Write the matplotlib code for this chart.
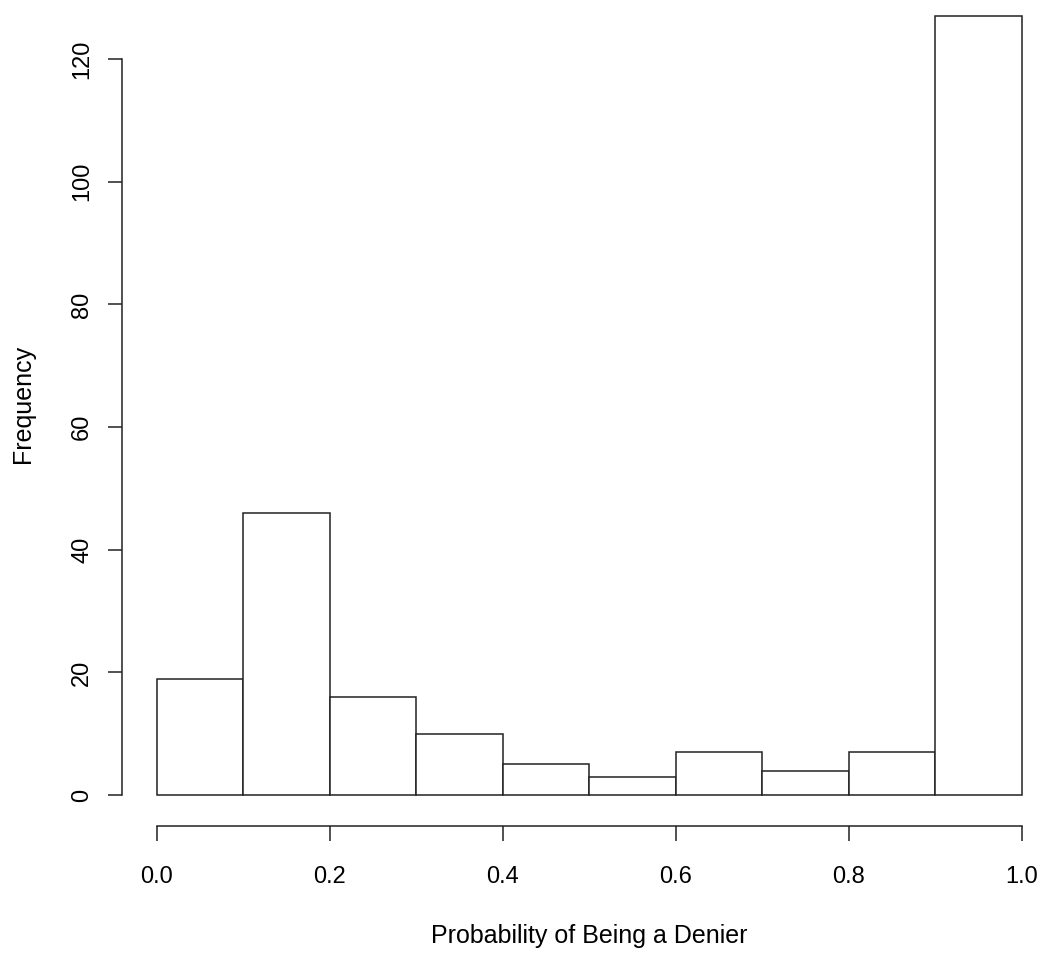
import matplotlib
matplotlib.use("Agg")
import matplotlib.pyplot as plt

# histogram of the denier probabilities
bin_edges = [0.0, 0.1, 0.2, 0.3, 0.4, 0.5, 0.6, 0.7, 0.8, 0.9, 1.0]
counts = [19, 46, 16, 10, 5, 3, 7, 4, 7, 127]
x_ticks = [0.0, 0.2, 0.4, 0.6, 0.8, 1.0]
y_ticks = [0, 20, 40, 60, 80, 100, 120]

plt.rcParams['font.family'] = ['Liberation Sans', 'DejaVu Sans']

W, H = 1050, 959
fig = plt.figure(figsize=(W / 100, H / 100), dpi=100)
# R style plot region: 4% padding on both axes
ax = fig.add_axes([122 / W, (H - 826.2) / H, 934.2 / W, 841.2 / H])

lefts = bin_edges[:-1]
widths = [b - a for a, b in zip(bin_edges[:-1], bin_edges[1:])]
ax.bar(lefts, counts, width=widths, align='edge', color='white',
       edgecolor='#222222', linewidth=1.1)

ax.set_xlim(-0.04, 1.04)
ax.set_ylim(-5.08, 132.08)

for s in ['top', 'right']:
    ax.spines[s].set_visible(False)
ax.spines['left'].set_bounds(0, 120)
ax.spines['bottom'].set_bounds(0, 1)
for s in ['left', 'bottom']:
    ax.spines[s].set_linewidth(1.1)
    ax.spines[s].set_color('#222222')

ax.set_xticks(x_ticks)
ax.set_xticklabels([f"{v:.1f}" for v in x_ticks])
ax.set_yticks(y_ticks)
ax.tick_params(axis='x', length=10.8, width=1.1, color='#222222',
               pad=18, labelsize=17)
ax.tick_params(axis='y', length=10, width=1.1, color='#222222',
               pad=10.8, labelsize=17)
plt.setp(ax.get_yticklabels(), rotation=90, va='center')

fig.text(23 / W, 1 - 404 / H, "Frequency", rotation=90, ha='center',
         va='center', fontsize=18)
fig.text(589 / W, 1 - 936 / H, "Probability of Being a Denier",
         ha='center', va='center', fontsize=18)

fig.savefig("out.png", dpi=100)
